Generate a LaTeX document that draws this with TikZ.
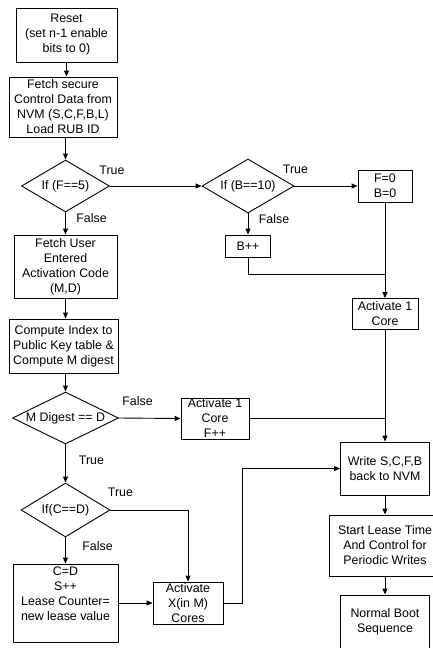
\documentclass[tikz,border=0pt]{standalone}
\usepackage{fontspec}
\setmainfont{Liberation Sans}
\usetikzlibrary{shapes.geometric,arrows.meta}
\begin{document}
\begin{tikzpicture}[x=1pt,y=-1pt,
  font=\fontsize{12.4}{15}\selectfont,
  box/.style={draw,line width=0.9pt,rectangle,align=center,inner sep=0pt},
  dec/.style={draw,line width=0.9pt,diamond,inner sep=0pt},
  flow/.style={line width=0.9pt,-{Triangle[length=6pt,width=5pt]}},
  link/.style={line width=0.9pt},
  lbl/.style={inner sep=0pt}]
\useasboundingbox (0,0) rectangle (433,648);

% left column
\node[box,minimum width=101pt,minimum height=54pt] (reset) at (66.5,35) {Reset\\(set n-1 enable\\bits to 0)};
\node[box,minimum width=108pt,minimum height=60pt] (fsec) at (63,107) {Fetch secure\\Control Data from\\NVM (S,C,F,B,L)\\Load RUB ID};
\node[dec,minimum width=88pt,minimum height=52pt] (d1) at (65.5,186) {\makebox[0pt]{If (F==5)}};
\node[box,minimum width=103pt,minimum height=63pt] (fuser) at (65.5,266.5) {Fetch User\\Entered\\Activation Code\\(M,D)};
\node[box,minimum width=109pt,minimum height=54pt] (comp) at (63.5,346) {Compute Index to\\Public Key table \&\\Compute M digest};
\node[dec,minimum width=106pt,minimum height=52pt] (d3) at (65.5,418) {\makebox[0pt]{M Digest == D}};
\node[dec,minimum width=89pt,minimum height=54pt] (d4) at (65.5,510) {\makebox[0pt]{If(C==D)}};
\node[box,minimum width=105pt,minimum height=78pt] (cd) at (65.5,603) {C=D\\S++\\Lease Counter=\\new lease value\\\strut};

% middle column
\node[dec,minimum width=92pt,minimum height=54pt] (d2) at (248,186) {\makebox[0pt]{If (B==10)}};
\node[box,minimum width=45pt,minimum height=22pt] (bpp) at (248,246) {B++};
\node[box,minimum width=68pt,minimum height=41pt] (act1f) at (215,418.5) {Activate 1\\Core\\F++};
\node[box,minimum width=70pt,minimum height=42pt] (actx) at (188,603) {Activate\\X(in M)\\Cores};

% right column
\node[box,minimum width=54pt,minimum height=32pt] (fb) at (385,186) {F=0\\B=0};
\node[box,minimum width=66pt,minimum height=31pt] (act1) at (385,314) {Activate 1\\Core};
\node[box,minimum width=89pt,minimum height=53pt] (write) at (385,468.5) {Write S,C,F,B\\back to NVM};
\node[box,minimum width=112pt,minimum height=61pt] (lease) at (385,545.5) {Start Lease Time\\And Control for\\Periodic Writes};
\node[box,minimum width=89pt,minimum height=54pt] (boot) at (385,622) {Normal Boot\\Sequence};

% branch labels
\node[lbl] (t1) at (112,170) {True};
\node[lbl] (f1) at (91.5,218) {False};
\node[lbl] (t2) at (295.5,169.5) {True};
\node[lbl] (f2) at (274,219.5) {False};
\node[lbl] (f3) at (137.5,401.5) {False};
\node[lbl] (t3) at (91.5,460.5) {True};
\node[lbl] (t4) at (120.5,492.5) {True};
\node[lbl] (f4) at (97.5,546) {False};

% connectors
\coordinate (j1) at (385,274);
\draw[flow] (reset.south) -- (reset.south |- fsec.north);
\draw[flow] (d1.north |- fsec.south) -- (d1.north);
\draw[flow] (d1.east) -- (d2.west);
\draw[flow] (d2.east) -- (fb.west);
\draw[flow] (d2.south) -- (bpp.north);
\draw[link] (bpp.south) |- (j1);
\draw[flow] (fb.south) -- (act1.north);
\draw[flow] (d1.south) -- (d1.south |- fuser.north);
\draw[flow] (d1.south |- fuser.south) -- (d1.south |- comp.north);
\draw[flow] (d1.south |- comp.south) -- (d3.north);
\draw[flow] (d3.east) -- (act1f.west);
\draw[link] (act1f.east) -- (act1f.east -| act1.south);
\draw[flow] (act1.south) -- (write.north);
\draw[flow] (write.south) -- (lease.north);
\draw[flow] (lease.south) -- (boot.north);
\draw[flow] (d3.south) -- (d4.north);
\draw[flow] (d4.east) -| (actx.north);
\draw[flow] (d4.south) -- (d4.south |- cd.north);
\draw[flow] (cd.east) -- (actx.west);
\draw[flow] (actx.east) -- ++(19,0) |- (write.west);
\end{tikzpicture}
\end{document}
